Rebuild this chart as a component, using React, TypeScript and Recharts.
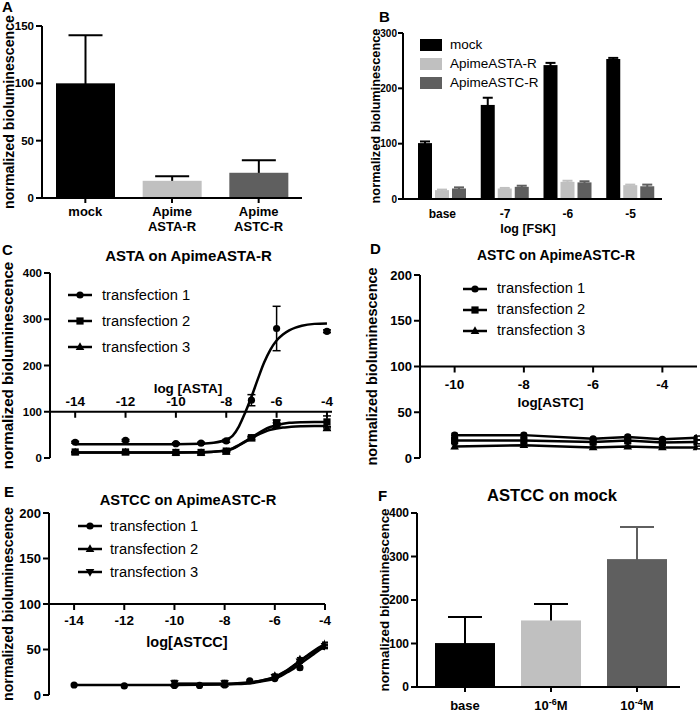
import React from 'react'
import {
  BarChart, Bar, Cell, ComposedChart, Line, Scatter, XAxis, YAxis,
  ErrorBar, ReferenceLine, Legend,
} from 'recharts'

const FONT = '"Liberation Sans", Arial, Helvetica, sans-serif'
const BLACK = '#000000'
const LIGHT = '#c0c0c0'
const DARK = '#5f5f5f'
const YLABEL = 'normalized bioluminescence'
const TRANSFECTIONS = ['transfection 1', 'transfection 2', 'transfection 3']

// A - basal luminescence
const aCats = ['mock', 'Apime\nASTA-R', 'Apime\nASTC-R']
const aMeans = [100, 15, 22]
const aErr = [42, 4, 11]
const aColors = [BLACK, LIGHT, DARK]
const aTicks = [0, 50, 100, 150]

// B - forskolin
const bCats = ['base', '-7', '-6', '-5']
const bNames = ['mock', 'ApimeASTA-R', 'ApimeASTC-R']
const bMock = [101, 170, 242, 253]
const bMockErr = [3, 13, 4, 2]
const bAsta = [16, 19, 31, 25]
const bAstaErr = [1, 1, 2, 1]
const bAstc = [19, 22, 30, 23]
const bAstcErr = [2, 2, 2, 3]
const bTicks = [0, 100, 200, 300]

// C - ASTA on ApimeASTA-R
const cTicks = [-14, -12, -10, -8, -6, -4]
const cYTicks = [0, 100, 200, 300, 400]
const cDose = [-14, -12, -10, -9, -8, -7, -6, -4]
const cT1 = [34, 38, 31, 32, 37, 125, 280, 274]
const cT1Err = [2, 2, 2, 2, 3, 12, 48, 3]
const cT2 = [13, 13, 12, 12, 15, 44, 76, 78]
const cT2Err = [1, 1, 1, 1, 1, 3, 6, 13]
const cT3 = [12, 12, 11, 11, 13, 42, 71, 64]
const cT3Err = [1, 1, 1, 1, 1, 3, 5, 4]
const cFitX = [-14, -13, -12, -11, -10, -9, -8.5, -8, -7.75, -7.5, -7.25, -7, -6.75, -6.5, -6.25, -6, -5.75, -5.5, -5.25, -5, -4.5, -4]
const cFit1 = [30, 30, 30, 30, 30, 31, 33, 40, 48, 68, 98, 132, 170, 206, 234, 254, 267, 276, 282, 286, 290, 291]
const cFit2 = [12, 12, 12, 12, 12, 12.5, 13.5, 17, 21, 28, 36, 44, 53, 61, 67, 71, 74, 76, 77, 77.5, 78, 78]
const cFit3 = [12, 12, 12, 12, 12, 12.5, 13.5, 16, 20, 27, 35, 42, 50, 56, 61, 64, 66, 67, 68, 68.5, 69, 69]

// D - ASTC on ApimeASTC-R
const dTicks = [-10, -8, -6, -4]
const dYTicks = [0, 50, 100, 150, 200]
const dDose = [-10, -8, -6, -5, -4, -3]
const dT1 = [25, 25, 21, 23, 20.5, 22]
const dT1Err = [2, 2, 1.5, 2, 1.5, 2]
const dT2 = [19, 19, 17.5, 19, 17, 17.5]
const dT2Err = [2, 2, 1.5, 1.5, 1.5, 2]
const dT3 = [12.5, 14, 11.5, 12.5, 11.5, 11.5]
const dT3Err = [2, 2, 1.5, 1.5, 1.5, 1.5]

// E - ASTCC on ApimeASTC-R
const eTicks = [-14, -12, -10, -8, -6, -4]
const eDose1 = [-14, -12, -10, -9, -8, -7, -6, -5, -4]
const eT1 = [11, 10, 10.5, 10.5, 11, 15.5, 18, 30, 53]
const eT1Err = [1, 1, 1, 1, 1, 1, 1, 2, 2]
const eDose23 = [-10, -8, -6, -5, -4]
const eT2 = [12, 12, 21, 39, 56]
const eT2Err = [3, 3, 2, 2, 2]
const eT3 = [13, 13, 20, 37, 54]
const eT3Err = [3, 3, 2, 2, 2]
const eFitX1 = [-14, -12, -10, -8, -7.5, -7, -6.5, -6, -5.75, -5.5, -5.25, -5, -4.75, -4.5, -4.25, -4]
const eFit1 = [11, 11, 11, 11.5, 12, 13, 15, 18, 21, 25, 29, 34, 39, 44, 49, 53]
const eFitX23 = [-10, -8, -7.5, -7, -6.5, -6, -5.75, -5.5, -5.25, -5, -4.75, -4.5, -4.25, -4]
const eFit2 = [12, 12, 12.5, 13.5, 16, 20, 23.5, 27.5, 32.5, 37.5, 42.5, 47.5, 52, 55.5]
const eFit3 = [12.5, 12.5, 13, 14, 16, 19.5, 23, 27, 32, 37, 42, 46.5, 50.5, 54]

// F - ASTCC on mock
const fCats = ['base', '10^-6M', '10^-4M']
const fMeans = [101, 153, 294]
const fErr = [60, 38, 74]
const fColors = [BLACK, LIGHT, DARK]
const fErrColors = [BLACK, BLACK, DARK]
const fTicks = [0, 100, 200, 300, 400]

const pts = (xs: number[], ys: number[], es?: number[]) =>
  xs.map((x, i) => ({ x, y: ys[i], e: es ? es[i] : 0 }))

const aData = aCats.map((cat, i) => ({ cat, v: aMeans[i], e: aErr[i], color: aColors[i], ec: BLACK }))
const bData = bCats.map((cat, i) => ({
  cat, mock: bMock[i], mockE: bMockErr[i], asta: bAsta[i], astaE: bAstaErr[i], astc: bAstc[i], astcE: bAstcErr[i],
}))
const fData = fCats.map((cat, i) => ({ cat, v: fMeans[i], e: fErr[i], color: fColors[i], ec: fErrColors[i] }))

const AX = { stroke: '#000', strokeWidth: 2 }
const tickStyle = (fontSize: number) => ({ fill: '#000', fontSize, fontWeight: 700, fontFamily: FONT })
const yLabel = (offset: number, fontSize: number) => ({
  value: YLABEL, angle: -90, position: 'insideLeft' as const, offset,
  style: { textAnchor: 'middle', fontSize, fontWeight: 700, fontFamily: FONT, fill: '#000' },
})

// bar with a one-sided (upper) error bar drawn behind it, GraphPad style
const withErr = (valKey: string, errKey: string, capW: number) => (props: any) => {
  const { x, y, width, height, fill, payload } = props
  const v = payload[valKey]
  const eh = v ? (payload[errKey] / v) * height : 0
  const cx = x + width / 2
  const top = y - eh
  const c = payload.ec || fill
  return (
    <g>
      <line x1={cx} x2={cx} y1={y + 2} y2={top} stroke={c} strokeWidth={2} />
      <line x1={cx - capW / 2} x2={cx + capW / 2} y1={top} y2={top} stroke={c} strokeWidth={2} />
      <rect x={x} y={y} width={width} height={height} fill={fill} />
    </g>
  )
}

function Marker({ kind, cx, cy, r = 3.6 }: any) {
  if (kind === 'square') return <rect x={cx - r} y={cy - r} width={2 * r} height={2 * r} fill="#000" />
  if (kind === 'up')
    return <path d={`M${cx},${cy - r * 1.3}L${cx + r * 1.2},${cy + r * 0.8}L${cx - r * 1.2},${cy + r * 0.8}Z`} fill="#000" />
  if (kind === 'down')
    return <path d={`M${cx},${cy + r * 1.3}L${cx + r * 1.2},${cy - r * 0.8}L${cx - r * 1.2},${cy - r * 0.8}Z`} fill="#000" />
  return <circle cx={cx} cy={cy} r={r} fill="#000" />
}

const markerShape = (kind: string) => (p: any) => <Marker kind={kind} cx={p.cx} cy={p.cy} />

const CurveLegend = ({ kinds, fontSize, rowH, gap }: any) => (
  <div style={{ fontFamily: FONT, fontSize, color: '#000' }}>
    {TRANSFECTIONS.map((n, i) => (
      <div key={n} style={{ display: 'flex', alignItems: 'center', height: rowH }}>
        <svg width={24} height={12} style={{ overflow: 'visible' }}>
          <line x1={0} x2={24} y1={6} y2={6} stroke="#000" strokeWidth={2.5} />
          <Marker kind={kinds[i]} cx={12} cy={6} />
        </svg>
        <span style={{ marginLeft: gap, lineHeight: 1 }}>{n}</span>
      </div>
    ))}
  </div>
)

const BoxLegend = () => (
  <div style={{ fontFamily: FONT, fontSize: 13.5, color: '#000' }}>
    {bNames.map((n, i) => (
      <div key={n} style={{ display: 'flex', alignItems: 'center', height: 19 }}>
        <div style={{ width: 22, height: 12, background: [BLACK, LIGHT, DARK][i] }} />
        <span style={{ marginLeft: 8, lineHeight: 1 }}>{n}</span>
      </div>
    ))}
  </div>
)

// x ticks for the log axes, which cross the y axis at 100
const logTick = (rowY: number, labelDy: number, fontSize: number) => (props: any) => {
  const { x, payload } = props
  return (
    <g>
      <line x1={x} x2={x} y1={rowY} y2={rowY + 6} stroke="#000" strokeWidth={2} />
      <text x={x} y={rowY + labelDy} textAnchor="middle" dominantBaseline="central"
        fontSize={fontSize} fontWeight={700} fontFamily={FONT} fill="#000">{payload.value}</text>
    </g>
  )
}

const twoLineTick = (props: any) => {
  const { x, y, payload } = props
  const lines = String(payload.value).split('\n')
  return (
    <text x={x} y={y} textAnchor="middle" fontSize={13} fontWeight={700} fontFamily={FONT} fill="#000">
      {lines.map((l, i) => (
        <tspan key={i} x={x} dy={i === 0 ? '0.85em' : '1.15em'}>{l}</tspan>
      ))}
    </text>
  )
}

const powerTick = (props: any) => {
  const { x, y, payload } = props
  const m = /^(\d+)\^(-?\d+)(.*)$/.exec(String(payload.value))
  return (
    <text x={x} y={y} dy="0.71em" textAnchor="middle" fontSize={13} fontWeight={700} fontFamily={FONT} fill="#000">
      {m ? (
        <>
          {m[1]}
          <tspan dy={-5} fontSize={9}>{m[2]}</tspan>
          <tspan dy={5}>{m[3]}</tspan>
        </>
      ) : payload.value}
    </text>
  )
}

const rowAt100 = (top: number, plotH: number, max: number) => top + plotH * (1 - 100 / max)

const place = (left: number, top: number): React.CSSProperties => ({ position: 'absolute', left, top })

export default function App() {
  return (
    <div style={{ position: 'absolute', left: 0, top: 0, width: 700, height: 713, background: '#fff', overflow: 'hidden' }}>
      {/* A */}
      <div style={place(0, 0)}>
        <BarChart width={350} height={240} data={aData} margin={{ top: 26, right: 48, bottom: 0, left: 0 }}>
          <XAxis dataKey="cat" height={42} axisLine={AX} tickLine={AX} tickSize={5} interval={0} tick={twoLineTick} />
          <YAxis type="number" domain={[0, 150]} ticks={aTicks} width={42} interval={0}
            axisLine={AX} tickLine={AX} tickSize={6} tickMargin={2} tick={tickStyle(11.5)} label={yLabel(9, 14.2)} />
          <Bar dataKey="v" barSize={59} isAnimationActive={false} shape={withErr('v', 'e', 34)}>
            {aData.map(d => <Cell key={d.cat} fill={d.color} />)}
          </Bar>
        </BarChart>
      </div>

      {/* B */}
      <div style={place(350, 0)}>
        <BarChart width={350} height={240} data={bData} barGap={3} margin={{ top: 33, right: 38, bottom: 0, left: 0 }}>
          <XAxis dataKey="cat" height={41} axisLine={AX} tickLine={false} tickMargin={4} interval={0}
            padding={{ left: 8, right: 0 }} tick={tickStyle(12)} />
          <YAxis type="number" domain={[0, 300]} ticks={bTicks} width={53} interval={0}
            axisLine={AX} tickLine={AX} tickSize={5} tickMargin={1} tick={tickStyle(10)} label={yLabel(25.5, 12.8)} />
          <Legend layout="vertical" align="center" verticalAlign="middle"
            wrapperStyle={{ left: 70, top: 35.5, width: 160 }} content={() => <BoxLegend />} />
          <Bar dataKey="mock" fill={BLACK} barSize={14} isAnimationActive={false} shape={withErr('mock', 'mockE', 10)} />
          <Bar dataKey="asta" fill={LIGHT} barSize={14} isAnimationActive={false} shape={withErr('asta', 'astaE', 10)} />
          <Bar dataKey="astc" fill={DARK} barSize={14} isAnimationActive={false} shape={withErr('astc', 'astcE', 10)} />
        </BarChart>
      </div>

      {/* C */}
      <div style={place(0, 240)}>
        <ComposedChart width={350} height={230} margin={{ top: 33, right: 18, bottom: 0, left: 0 }}>
          <XAxis type="number" dataKey="x" domain={[-15, -3.8]} ticks={cTicks} allowDataOverflow interval={0}
            height={12} axisLine={false} tickLine={false} tick={logTick(rowAt100(33, 185, 400), -10, 13.5)} />
          <YAxis type="number" dataKey="y" domain={[0, 400]} ticks={cYTicks} width={50} interval={0}
            axisLine={AX} tickLine={AX} tickSize={6} tickMargin={2} tick={tickStyle(11.5)} label={yLabel(8, 15.2)} />
          <ReferenceLine y={100} stroke="#000" strokeWidth={2}
            label={{ value: 'log [ASTA]', position: 'top', offset: 19, fontSize: 13.5, fontWeight: 700, fontFamily: FONT, fill: '#000', dx: -3 }} />
          <Legend layout="vertical" align="center" verticalAlign="middle" wrapperStyle={{ left: 68, top: 42, width: 200 }}
            content={() => <CurveLegend kinds={['circle', 'square', 'up']} fontSize={14.7} rowH={26} gap={10} />} />
          <Line data={pts(cFitX, cFit1)} dataKey="y" type="monotone" stroke="#000" strokeWidth={2.5} dot={false} activeDot={false} isAnimationActive={false} />
          <Line data={pts(cFitX, cFit2)} dataKey="y" type="monotone" stroke="#000" strokeWidth={2.5} dot={false} activeDot={false} isAnimationActive={false} />
          <Line data={pts(cFitX, cFit3)} dataKey="y" type="monotone" stroke="#000" strokeWidth={2.5} dot={false} activeDot={false} isAnimationActive={false} />
          <Scatter data={pts(cDose, cT1, cT1Err)} shape={markerShape('circle')} isAnimationActive={false}>
            <ErrorBar dataKey="e" direction="y" width={4} stroke="#000" strokeWidth={1.5} />
          </Scatter>
          <Scatter data={pts(cDose, cT3, cT3Err)} shape={markerShape('up')} isAnimationActive={false}>
            <ErrorBar dataKey="e" direction="y" width={4} stroke="#000" strokeWidth={1.5} />
          </Scatter>
          <Scatter data={pts(cDose, cT2, cT2Err)} shape={markerShape('square')} isAnimationActive={false}>
            <ErrorBar dataKey="e" direction="y" width={4} stroke="#000" strokeWidth={1.5} />
          </Scatter>
        </ComposedChart>
      </div>

      {/* D */}
      <div style={place(350, 240)}>
        <ComposedChart width={350} height={230} margin={{ top: 35, right: 3, bottom: 0, left: 0 }}>
          <XAxis type="number" dataKey="x" domain={[-11, -3]} ticks={dTicks} allowDataOverflow interval={0}
            height={12} axisLine={false} tickLine={false} tick={logTick(rowAt100(35, 183, 200), 18, 13.5)} />
          <YAxis type="number" dataKey="y" domain={[0, 200]} ticks={dYTicks} width={70} interval={0}
            axisLine={AX} tickLine={AX} tickSize={6} tickMargin={2} tick={tickStyle(13)} label={yLabel(22, 14.5)} />
          <ReferenceLine y={100} stroke="#000" strokeWidth={2}
            label={{ value: 'log[ASTC]', position: 'bottom', offset: 31, fontSize: 13.5, fontWeight: 700, fontFamily: FONT, fill: '#000', dx: -8 }} />
          <Legend layout="vertical" align="center" verticalAlign="middle" wrapperStyle={{ left: 113, top: 38, width: 200 }}
            content={() => <CurveLegend kinds={['circle', 'square', 'up']} fontSize={14.7} rowH={21} gap={10} />} />
          <Line data={pts(dDose, dT1)} dataKey="y" type="linear" stroke="#000" strokeWidth={2.5} dot={false} activeDot={false} isAnimationActive={false} />
          <Line data={pts(dDose, dT2)} dataKey="y" type="linear" stroke="#000" strokeWidth={2.5} dot={false} activeDot={false} isAnimationActive={false} />
          <Line data={pts(dDose, dT3)} dataKey="y" type="linear" stroke="#000" strokeWidth={2.5} dot={false} activeDot={false} isAnimationActive={false} />
          <Scatter data={pts(dDose, dT1, dT1Err)} shape={markerShape('circle')} isAnimationActive={false}>
            <ErrorBar dataKey="e" direction="y" width={3} stroke="#000" strokeWidth={1.5} />
          </Scatter>
          <Scatter data={pts(dDose, dT2, dT2Err)} shape={markerShape('square')} isAnimationActive={false}>
            <ErrorBar dataKey="e" direction="y" width={3} stroke="#000" strokeWidth={1.5} />
          </Scatter>
          <Scatter data={pts(dDose, dT3, dT3Err)} shape={markerShape('up')} isAnimationActive={false}>
            <ErrorBar dataKey="e" direction="y" width={3} stroke="#000" strokeWidth={1.5} />
          </Scatter>
        </ComposedChart>
      </div>

      {/* E */}
      <div style={place(0, 470)}>
        <ComposedChart width={350} height={243} margin={{ top: 43, right: 25, bottom: 0, left: 0 }}>
          <XAxis type="number" dataKey="x" domain={[-15, -4]} ticks={eTicks} allowDataOverflow interval={0}
            height={18} axisLine={false} tickLine={false} tick={logTick(rowAt100(43, 182, 200), 16, 13.5)} />
          <YAxis type="number" dataKey="y" domain={[0, 200]} ticks={dYTicks} width={49} interval={0}
            axisLine={AX} tickLine={AX} tickSize={6} tickMargin={2} tick={tickStyle(13)} label={yLabel(8, 14.2)} />
          <ReferenceLine y={100} stroke="#000" strokeWidth={2}
            label={{ value: 'log[ASTCC]', position: 'bottom', offset: 33, fontSize: 14.5, fontWeight: 700, fontFamily: FONT, fill: '#000' }} />
          <Legend layout="vertical" align="center" verticalAlign="middle" wrapperStyle={{ left: 78, top: 44.5, width: 200 }}
            content={() => <CurveLegend kinds={['circle', 'up', 'down']} fontSize={14.7} rowH={23} gap={8} />} />
          <Line data={pts(eFitX1, eFit1)} dataKey="y" type="monotone" stroke="#000" strokeWidth={2.5} dot={false} activeDot={false} isAnimationActive={false} />
          <Line data={pts(eFitX23, eFit2)} dataKey="y" type="monotone" stroke="#000" strokeWidth={2.5} dot={false} activeDot={false} isAnimationActive={false} />
          <Line data={pts(eFitX23, eFit3)} dataKey="y" type="monotone" stroke="#000" strokeWidth={2.5} dot={false} activeDot={false} isAnimationActive={false} />
          <Scatter data={pts(eDose1, eT1, eT1Err)} shape={markerShape('circle')} isAnimationActive={false}>
            <ErrorBar dataKey="e" direction="y" width={3} stroke="#000" strokeWidth={1.5} />
          </Scatter>
          <Scatter data={pts(eDose23, eT2, eT2Err)} shape={markerShape('up')} isAnimationActive={false}>
            <ErrorBar dataKey="e" direction="y" width={3} stroke="#000" strokeWidth={1.5} />
          </Scatter>
          <Scatter data={pts(eDose23, eT3, eT3Err)} shape={markerShape('down')} isAnimationActive={false}>
            <ErrorBar dataKey="e" direction="y" width={3} stroke="#000" strokeWidth={1.5} />
          </Scatter>
        </ComposedChart>
      </div>

      {/* F */}
      <div style={place(350, 470)}>
        <BarChart width={350} height={243} data={fData} margin={{ top: 43, right: 20, bottom: 0, left: 0 }}>
          <XAxis dataKey="cat" height={26} axisLine={AX} tickLine={AX} tickSize={5} tickMargin={9} interval={0}
            padding={{ left: 5, right: 0 }} tick={powerTick} />
          <YAxis type="number" domain={[0, 400]} ticks={fTicks} width={67} interval={0}
            axisLine={AX} tickLine={AX} tickSize={6} tickMargin={2} tick={tickStyle(12)} label={yLabel(34, 13.4)} />
          <Bar dataKey="v" barSize={60} isAnimationActive={false} shape={withErr('v', 'e', 34)}>
            {fData.map(d => <Cell key={d.cat} fill={d.color} />)}
          </Bar>
        </BarChart>
      </div>

      {/* panel letters, titles and the B axis title */}
      <svg width={700} height={713} style={{ position: 'absolute', left: 0, top: 0, pointerEvents: 'none' }}
        fontFamily={FONT} fontWeight={700} fill="#000">
        <text x={2} y={12} fontSize={15}>A</text>
        <text x={379} y={22} fontSize={15}>B</text>
        <text x={2} y={255} fontSize={15}>C</text>
        <text x={370} y={254} fontSize={15}>D</text>
        <text x={4} y={497} fontSize={15}>E</text>
        <text x={378} y={501} fontSize={15}>F</text>
        <text x={528} y={233} fontSize={12.5} textAnchor="middle">log [FSK]</text>
        <text x={188.5} y={260.5} fontSize={15} textAnchor="middle">ASTA on ApimeASTA-R</text>
        <text x={556} y={259.5} fontSize={14} textAnchor="middle">ASTC on ApimeASTC-R</text>
        <text x={188} y={505} fontSize={14.7} textAnchor="middle">ASTCC on ApimeASTC-R</text>
        <text x={552} y={500.5} fontSize={16.6} textAnchor="middle">ASTCC on mock</text>
      </svg>
    </div>
  )
}
